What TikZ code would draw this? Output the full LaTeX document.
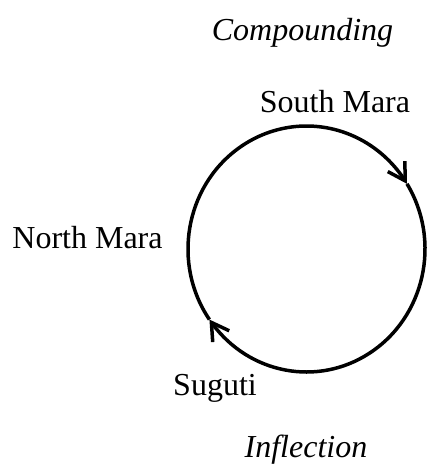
\documentclass[tikz,border=0pt]{standalone}
\usepackage{fontspec}
\setmainfont{Liberation Serif}
\usetikzlibrary{arrows.meta,bending,calc}
\begin{document}
\begin{tikzpicture}[x=1pt,y=1pt,
  lbl/.style={inner sep=0pt,anchor=base,font=\fontsize{32}{38}\selectfont},
  ilbl/.style={lbl,font=\fontsize{32}{38}\selectfont\itshape},
  cyc/.style={line width=3.5pt,-{Straight Barb[length=17pt,width=20pt,flex]}}]
\useasboundingbox (0,0) rectangle (428,475);
\coordinate (c) at (306.5,226);
\node[ilbl] (comp) at (302.5,434) {Compounding};
\node[lbl] (south) at (335,362) {South Mara};
\node[lbl] (north) at (87.5,226) {North Mara};
\node[lbl] (sug) at (215,79) {Suguti};
\node[ilbl] (infl) at (306,17) {Inflection};
\draw[cyc] ($(c)+({118.5*cos(215)},{123*sin(215)})$) arc[start angle=215,end angle=32,x radius=118.5,y radius=123];
\draw[cyc] ($(c)+({118.5*cos(32)},{123*sin(32)})$) arc[start angle=32,end angle=-145,x radius=118.5,y radius=123];
\end{tikzpicture}
\end{document}
